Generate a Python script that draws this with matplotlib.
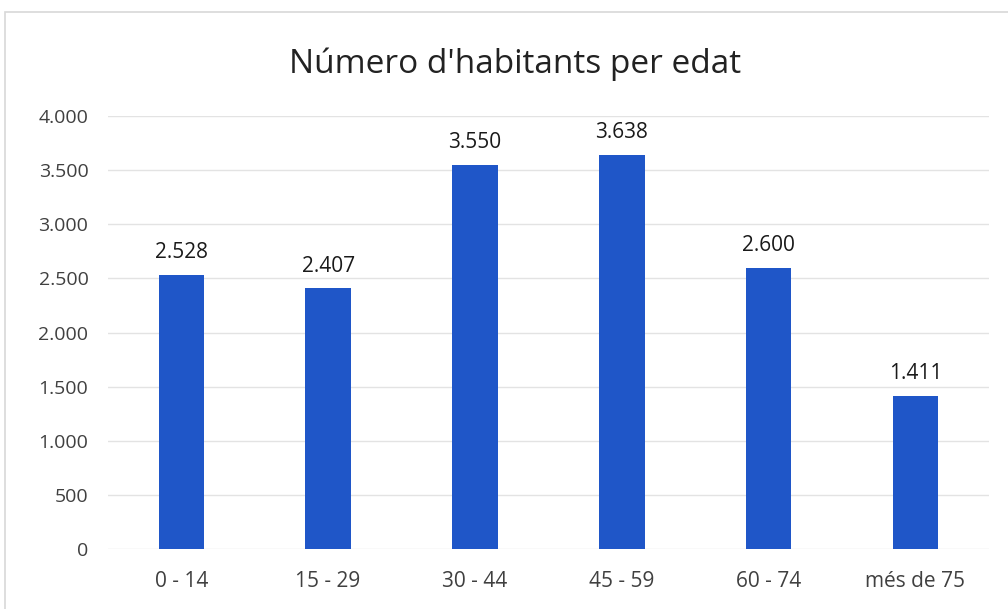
import matplotlib.pyplot as plt
from matplotlib.patches import Rectangle

# data
categories = ["0 - 14", "15 - 29", "30 - 44", "45 - 59", "60 - 74", "més de 75"]
habitants = [2528, 2407, 3550, 3638, 2600, 1411]
yticks = [0, 500, 1000, 1500, 2000, 2500, 3000, 3500, 4000]


def fmt(v):
    return f"{v:,}".replace(",", ".")


plt.rcParams['font.family'] = ['Open Sans', 'DejaVu Sans']

fig = plt.figure(figsize=(10.08, 6.09), dpi=100)
ax = fig.add_axes([0.107, 0.0985, 0.874, 0.711])

x = range(len(categories))
bars = ax.bar(x, habitants, width=0.31, color='#1f56c8', zorder=3)
for b, v in zip(bars, habitants):
    ax.text(b.get_x() + b.get_width() / 2, v + 110, fmt(v),
            ha='center', va='bottom', fontsize=15, color='#1a1a1a')

ax.set_xlim(-0.5, len(categories) - 0.5)
ax.set_ylim(0, 4000)
ax.set_yticks(yticks)
ax.set_yticklabels([fmt(t) for t in yticks], fontsize=14, color='#404040')
ax.set_xticks(list(x))
ax.set_xticklabels(categories, fontsize=15, color='#404040')
ax.tick_params(length=0, pad=14)
ax.tick_params(axis='x', pad=16)
ax.grid(axis='y', color='#e3e3e3', linewidth=1, zorder=0)
for s in ax.spines.values():
    s.set_visible(False)

fig.text(0.511, 0.895, "Número d'habitants per edat", ha='center', va='center',
         fontsize=24, color='#222222')

# chart frame (top and left edge of the scanned box)
fig.patches.append(Rectangle((0.005, -0.1), 1.2, 1.08, transform=fig.transFigure,
                             fill=False, edgecolor='#d8d8d8', linewidth=1.2))

fig.savefig("out.png", dpi=100)
